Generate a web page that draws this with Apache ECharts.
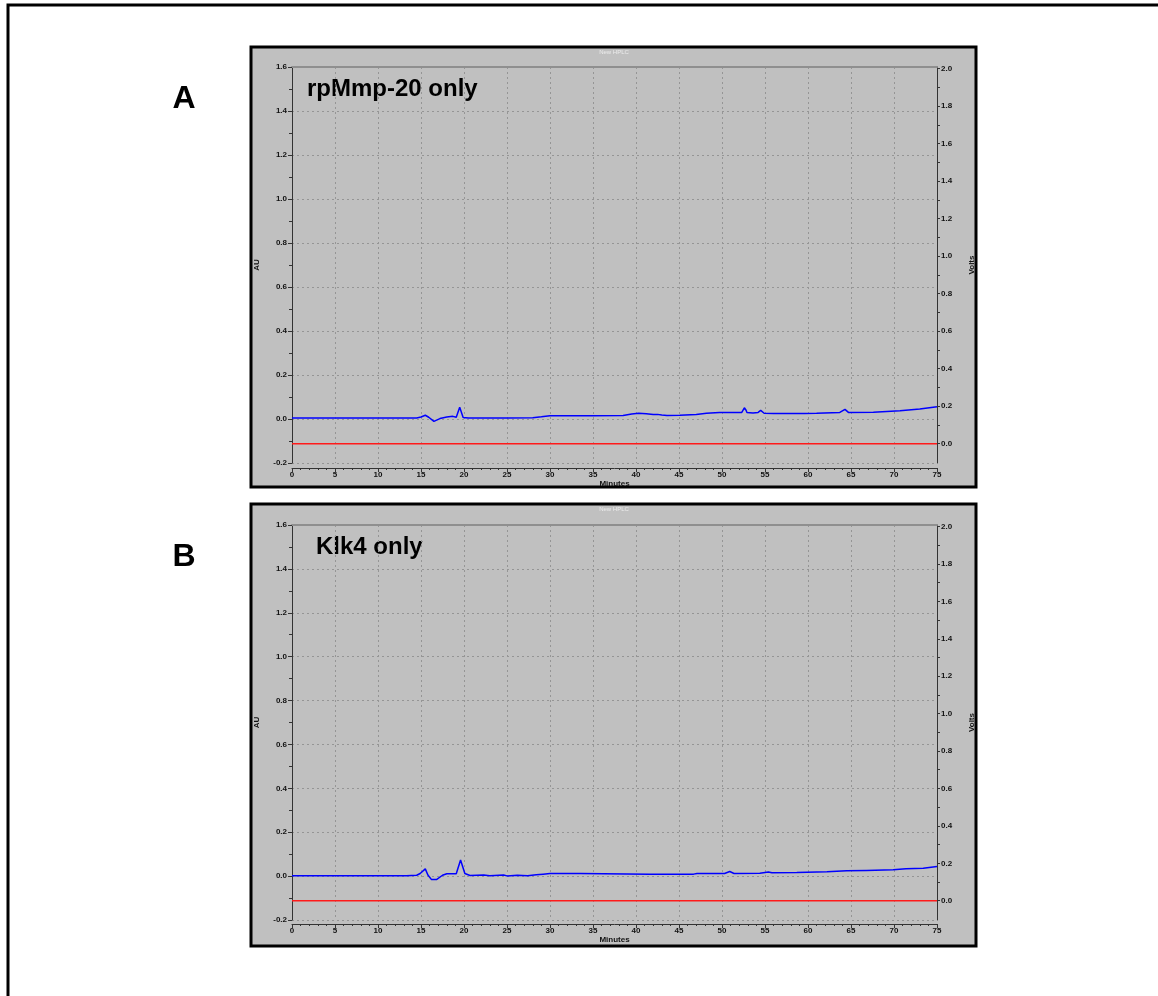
<!DOCTYPE html>
<html lang="en">
<head>
    <meta charset="UTF-8">
    <title>HPLC traces - rpMmp-20 only / Klk4 only</title>
    <script src="https://cdn.jsdelivr.net/npm/echarts@6/dist/echarts.min.js"></script>
    <style>
        body {
            margin: 0;
            background-color: #ffffff;
        }
        #main {
            width: 1158px;
            height: 996px;
        }
    </style>
</head>
<body>
<div id="main"></div>
<script>
// panel texts
var panelLetters = ['A', 'B'];
var panelTitles = ['rpMmp-20 only', 'Klk4 only'];

// tick labels of the volts axis (right side)
var voltLabels = [0, 0.2, 0.4, 0.6, 0.8, 1.0, 1.2, 1.4, 1.6, 1.8, 2.0];
var voltTicks = [0, 0.1, 0.2, 0.3, 0.4, 0.5, 0.6, 0.7, 0.8, 0.9, 1.0, 1.1, 1.2, 1.3, 1.4, 1.5, 1.6, 1.7, 1.8, 1.9, 2.0];

// A: [minutes, AU]
var auA = [
    [0, 0.005], [5, 0.005], [10, 0.005], [14.5, 0.005], [15.0, 0.009], [15.5, 0.017],
    [15.9, 0.008], [16.5, -0.011], [17.2, 0.002], [18.0, 0.009], [18.7, 0.012], [19.1, 0.008],
    [19.5, 0.053], [19.9, 0.007], [20.5, 0.005], [25, 0.005], [28, 0.006], [29, 0.010],
    [30, 0.015], [35, 0.015], [38.5, 0.016], [39.5, 0.023], [40.3, 0.026], [41.2, 0.024],
    [42, 0.020], [42.5, 0.021], [43, 0.018], [43.6, 0.016], [45.1, 0.017], [47, 0.021],
    [48.2, 0.026], [49.7, 0.030], [52.3, 0.030], [52.6, 0.051], [52.8, 0.040], [52.9, 0.030],
    [53.6, 0.027], [54.2, 0.030], [54.5, 0.039], [54.9, 0.026], [56, 0.025], [59.1, 0.025],
    [59.3, 0.031], [59.6, 0.025], [61, 0.026], [63.7, 0.030], [64.3, 0.044], [64.7, 0.030],
    [67.6, 0.031], [70.7, 0.038], [73, 0.045], [75, 0.056]
];
// A: [minutes, Volts]
var voltsA = [
    [0, 0], [52.7, 0], [52.9, 0.006], [53.1, 0], [66.5, 0], [66.7, 0.005], [66.9, 0], [75, 0]
];

// B: [minutes, AU]
var auB = [
    [0, 0.002], [13.3, 0.002], [13.5, 0.005], [14.5, 0.004], [14.9, 0.012], [15.5, 0.033],
    [15.8, 0.005], [16.2, -0.015], [16.8, -0.016], [17.5, 0.004], [18, 0.011], [19.1, 0.011],
    [19.6, 0.073], [20.1, 0.012], [20.7, 0.003], [22.3, 0.005], [23, 0.002], [24.6, 0.005],
    [25, 0.001], [26.2, 0.004], [27.4, 0.002], [28.4, 0.006], [29.2, 0.009], [30, 0.012],
    [33.5, 0.012], [33.7, 0.009], [41.6, 0.009], [46.7, 0.009], [47.1, 0.012], [50.3, 0.012],
    [50.9, 0.021], [51.4, 0.012], [54.4, 0.013], [55.4, 0.019], [55.8, 0.015], [58.7, 0.017],
    [62.2, 0.020], [64.5, 0.024], [66.8, 0.026], [69.9, 0.029], [71.4, 0.033], [73.4, 0.036],
    [75, 0.044]
];
// B: [minutes, Volts]
var voltsB = [
    [0, 0], [75, 0]
];

var chart = echarts.init(document.getElementById('main'));

var font = 'Liberation Sans, Arial, sans-serif';
var tickText = { fontSize: 8, fontWeight: 'bold', fontFamily: font, color: '#111' };
var gridLine = { type: [2, 3], color: '#959595', width: 1 };
var axisDark = { color: '#333', width: 1 };

var panels = [
    { top: 67, height: 396, offset: 5, boxTop: 47, boxHeight: 440, au: auA, volts: voltsA },
    { top: 525, height: 395, offset: 4, boxTop: 504, boxHeight: 442, au: auB, volts: voltsB }
];

var grids = [], xAxes = [], yAxes = [], series = [], graphics = [];

// outer frame round the whole figure
graphics.push({
    type: 'rect', z: -20, silent: true,
    shape: { x: 8, y: 5, width: 1200, height: 1100 },
    style: { fill: 'none', stroke: '#000', lineWidth: 3 }
});

panels.forEach(function (p, i) {
    grids.push({ left: 292, right: 221, top: p.top, height: p.height });

    // bottom minutes axis
    xAxes.push({
        type: 'value', gridIndex: i, min: 0, max: 75, interval: 5, offset: p.offset,
        name: 'Minutes', nameLocation: 'middle', nameGap: 12,
        nameTextStyle: tickText,
        axisLine: { show: true, onZero: false, lineStyle: axisDark },
        axisTick: { length: 4, lineStyle: axisDark },
        minorTick: { show: true, splitNumber: 5, length: 2, lineStyle: axisDark },
        axisLabel: Object.assign({ margin: 3 }, tickText),
        splitLine: { show: true, lineStyle: gridLine }
    });
    // grey top edge
    xAxes.push({
        type: 'value', gridIndex: i, position: 'top', min: 0, max: 75,
        axisLine: { show: true, onZero: false, lineStyle: { color: '#8f8f8f', width: 2 } },
        axisTick: { show: false }, axisLabel: { show: false }, splitLine: { show: false }
    });

    // AU axis (left)
    yAxes.push({
        type: 'value', gridIndex: i, position: 'left', min: -0.2, max: 1.6, interval: 0.2,
        name: 'AU', nameLocation: 'middle', nameGap: 31, nameRotate: 90,
        nameTextStyle: tickText,
        axisLine: { show: true, onZero: false, lineStyle: axisDark },
        axisTick: { show: true, length: 4, lineStyle: axisDark },
        minorTick: { show: true, splitNumber: 2, length: 3, lineStyle: axisDark },
        axisLabel: Object.assign({
            margin: 5,
            formatter: function (v) { return v.toFixed(1); }
        }, tickText),
        splitLine: { show: true, lineStyle: gridLine }
    });
    // Volts axis (right)
    yAxes.push({
        type: 'value', gridIndex: i, position: 'right', min: -0.103, max: 2.008,
        name: 'Volts', nameLocation: 'middle', nameGap: 31, nameRotate: 90,
        nameTextStyle: tickText,
        axisLine: { show: true, onZero: false, lineStyle: axisDark },
        axisTick: { show: true, length: 3, lineStyle: axisDark, customValues: voltTicks },
        axisLabel: Object.assign({
            margin: 4, customValues: voltLabels,
            formatter: function (v) { return v.toFixed(1); }
        }, tickText),
        splitLine: { show: false }
    });

    series.push({
        type: 'line', xAxisIndex: 2 * i, yAxisIndex: 2 * i + 1, data: p.volts,
        showSymbol: false, color: '#ff1a1a', lineStyle: { color: '#ff1a1a', width: 1.5 }
    });
    series.push({
        type: 'line', xAxisIndex: 2 * i, yAxisIndex: 2 * i, data: p.au,
        showSymbol: false, color: '#0000ff', lineStyle: { color: '#0000ff', width: 1.5 }
    });

    // panel box
    graphics.push({
        type: 'rect', z: -10, silent: true,
        shape: { x: 251, y: p.boxTop, width: 725, height: p.boxHeight },
        style: { fill: '#c0c0c0', stroke: '#000', lineWidth: 3 }
    });
    graphics.push({
        type: 'text', silent: true, x: 614, y: p.boxTop + 5,
        style: { text: 'New HPLC', font: '6px ' + font, fill: '#ececec', align: 'center', verticalAlign: 'middle' }
    });
    graphics.push({
        type: 'text', silent: true, x: 184, y: p.top + 32,
        style: { text: panelLetters[i], font: 'bold 32px ' + font, fill: '#000', align: 'center', verticalAlign: 'middle' }
    });
    graphics.push({
        type: 'text', silent: true, x: i === 0 ? 307 : 316, y: p.top + 22,
        style: { text: panelTitles[i], font: 'bold 24px ' + font, fill: '#000', align: 'left', verticalAlign: 'middle' }
    });
});

chart.setOption({
    animation: false,
    graphic: graphics,
    grid: grids,
    xAxis: xAxes,
    yAxis: yAxes,
    series: series
});
</script>
</body>
</html>
